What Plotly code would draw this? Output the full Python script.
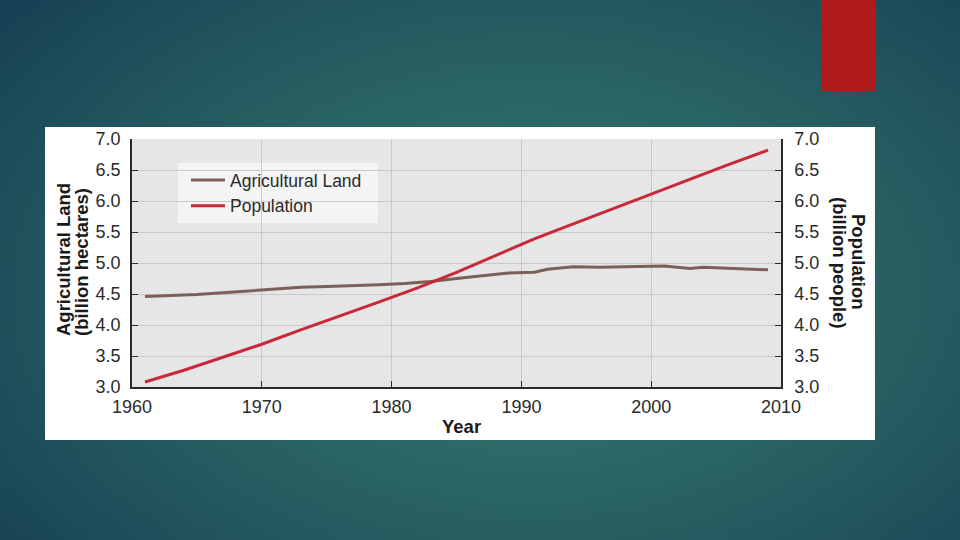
import base64
import struct
import zlib
import math
import plotly.graph_objects as go

# ---------------- data ----------------
land_years = [1961, 1963, 1965, 1967, 1969, 1971, 1973, 1975, 1977, 1979, 1981,
              1983, 1985, 1987, 1989, 1991, 1992, 1994, 1996, 1998, 2000, 2001,
              2002, 2003, 2004, 2006, 2009]
land_values = [4.46, 4.47, 4.49, 4.52, 4.55, 4.57, 4.61, 4.62, 4.63, 4.65, 4.67,
               4.70, 4.75, 4.80, 4.84, 4.85, 4.90, 4.94, 4.93, 4.94, 4.95, 4.95,
               4.93, 4.91, 4.93, 4.91, 4.89]

pop_years = [1961, 1964, 1967, 1970, 1973, 1976, 1979, 1982, 1985, 1988, 1991,
             1994, 1997, 2000, 2003, 2006, 2009]
pop_values = [3.08, 3.27, 3.48, 3.69, 3.92, 4.14, 4.37, 4.60, 4.85, 5.12, 5.39,
              5.63, 5.87, 6.12, 6.36, 6.59, 6.82]

x_ticks = [1960, 1970, 1980, 1990, 2000, 2010]
y_ticks = [3.0, 3.5, 4.0, 4.5, 5.0, 5.5, 6.0, 6.5, 7.0]
y_tick_text = ["3.0", "3.5", "4.0", "4.5", "5.0", "5.5", "6.0", "6.5", "7.0"]

# ---------------- geometry helpers ----------------
W, H = 960, 540
PL, PR, PT, PB = 132, 781, 139, 387
PW, PH = PR - PL, PB - PT


def px2x(px):
    return (px - PL) / PW


def px2y(py):
    return (PB - py) / PH


# ---------------- slide background (radial gradient PNG) ----------------
def gradient_png(w, h):
    cx, cy, rx, ry = 530, 290, 720, 470
    c0 = (52, 118, 108)
    c1 = (20, 60, 82)
    rows = []
    for j in range(h):
        py = (j + 0.5) * H / h
        row = bytearray([0])
        for i in range(w):
            px = (i + 0.5) * W / w
            d = math.sqrt(((px - cx) / rx) ** 2 + ((py - cy) / ry) ** 2)
            t = min(1.0, d) ** 1.4
            row += bytes(int(round(c0[k] + (c1[k] - c0[k]) * t)) for k in range(3))
        rows.append(bytes(row))
    raw = b"".join(rows)

    def chunk(tag, data):
        c = struct.pack(">I", len(data)) + tag + data
        return c + struct.pack(">I", zlib.crc32(tag + data) & 0xffffffff)

    png = b"\x89PNG\r\n\x1a\n"
    png += chunk(b"IHDR", struct.pack(">IIBBBBB", w, h, 8, 2, 0, 0, 0))
    png += chunk(b"IDAT", zlib.compress(raw, 9))
    png += chunk(b"IEND", b"")
    return "data:image/png;base64," + base64.b64encode(png).decode()


bg_src = gradient_png(192, 108)

FONT = "Liberation Sans, Arial, sans-serif"
AXIS_COL = "#2b2b2b"
GRID_COL = "#c9c9c9"

fig = go.Figure()
fig.add_trace(go.Scatter(
    x=land_years, y=land_values, mode="lines", name="Agricultural Land",
    line=dict(color="#7a6058", width=3), legendgroup="a", yaxis="y"))
fig.add_trace(go.Scatter(
    x=pop_years, y=pop_values, mode="lines", name="Population",
    line=dict(color="#c8283a", width=3), legendgroup="b", yaxis="y2"))

tickfont = dict(family=FONT, size=18, color="#2a2a2a")

fig.update_layout(
    width=W, height=H, autosize=False,
    margin=dict(l=PL, r=W - PR, t=PT, b=H - PB),
    paper_bgcolor="#245a66",
    plot_bgcolor="rgba(0,0,0,0)",
    showlegend=True,
    legend=dict(x=px2x(186), y=px2y(162), xanchor="left", yanchor="top",
                bgcolor="rgba(0,0,0,0)", borderwidth=0, tracegroupgap=0,
                font=dict(family=FONT, size=17.5, color="#2a2a2a"),
                itemwidth=34),
    xaxis=dict(range=[1960, 2010], tickvals=x_ticks, ticks="inside", ticklen=6,
               tickcolor=AXIS_COL, showline=True, linecolor=AXIS_COL, linewidth=1.5,
               showgrid=True, gridcolor=GRID_COL, gridwidth=1, zeroline=False,
               tickfont=tickfont, ticklabelstandoff=3),
    yaxis=dict(range=[3, 7], tickvals=y_ticks, ticktext=y_tick_text, ticks="inside",
               ticklen=6, tickcolor=AXIS_COL, showline=True, linecolor=AXIS_COL,
               linewidth=1.5, showgrid=True, gridcolor=GRID_COL, gridwidth=1,
               zeroline=False, tickfont=tickfont, ticklabelstandoff=6),
    yaxis2=dict(range=[3, 7], tickvals=y_ticks, ticktext=y_tick_text, ticks="inside",
                ticklen=6, tickcolor=AXIS_COL, showline=True, linecolor=AXIS_COL,
                linewidth=1.5, showgrid=False, zeroline=False, overlaying="y",
                side="right", tickfont=tickfont, ticklabelstandoff=8),
    images=[dict(source=bg_src, xref="paper", yref="paper", x=px2x(0), y=px2y(0),
                 sizex=W / PW, sizey=H / PH, xanchor="left", yanchor="top",
                 sizing="stretch", layer="below")],
    shapes=[
        # white panel behind the chart
        dict(type="rect", xref="paper", yref="paper", x0=px2x(45), x1=px2x(875),
             y0=px2y(440), y1=px2y(127), fillcolor="#ffffff", line=dict(width=0),
             layer="below"),
        # grey plotting area
        dict(type="rect", xref="paper", yref="paper", x0=0, x1=1, y0=0, y1=1,
             fillcolor="#e6e6e6", line=dict(width=0), layer="below"),
        # legend box
        dict(type="rect", xref="paper", yref="paper", x0=px2x(178), x1=px2x(378),
             y0=px2y(223), y1=px2y(163), fillcolor="#f4f4f4", line=dict(width=0),
             layer="below"),
        # red accent block at the top right of the slide
        dict(type="rect", xref="paper", yref="paper", x0=px2x(821), x1=px2x(876),
             y0=px2y(91), y1=px2y(-2), fillcolor="#b01a1a", line=dict(width=0),
             layer="below"),
    ],
    annotations=[
        dict(text="<b>Agricultural Land</b>", xref="paper", yref="paper",
             x=px2x(63), y=px2y(260), textangle=-90, showarrow=False,
             font=dict(family=FONT, size=18.5, color="#1a1a1a"),
             xanchor="center", yanchor="middle"),
        dict(text="<b>(billion hectares)</b>", xref="paper", yref="paper",
             x=px2x(81), y=px2y(262), textangle=-90, showarrow=False,
             font=dict(family=FONT, size=18.5, color="#1a1a1a"),
             xanchor="center", yanchor="middle"),
        dict(text="<b>Population</b>", xref="paper", yref="paper",
             x=px2x(859), y=px2y(262), textangle=90, showarrow=False,
             font=dict(family=FONT, size=18.5, color="#1a1a1a"),
             xanchor="center", yanchor="middle"),
        dict(text="<b>(billion people)</b>", xref="paper", yref="paper",
             x=px2x(840), y=px2y(263), textangle=90, showarrow=False,
             font=dict(family=FONT, size=18.5, color="#1a1a1a"),
             xanchor="center", yanchor="middle"),
        dict(text="<b>Year</b>", xref="paper", yref="paper",
             x=px2x(461), y=px2y(426), showarrow=False,
             font=dict(family=FONT, size=18.5, color="#1a1a1a"),
             xanchor="center", yanchor="middle"),
    ],
)

fig.write_html(
    "out.html",
    config={"displayModeBar": False},
    post_script="document.body.style.margin='0';document.body.style.padding='0';"
                "document.body.style.overflow='hidden';",
)
